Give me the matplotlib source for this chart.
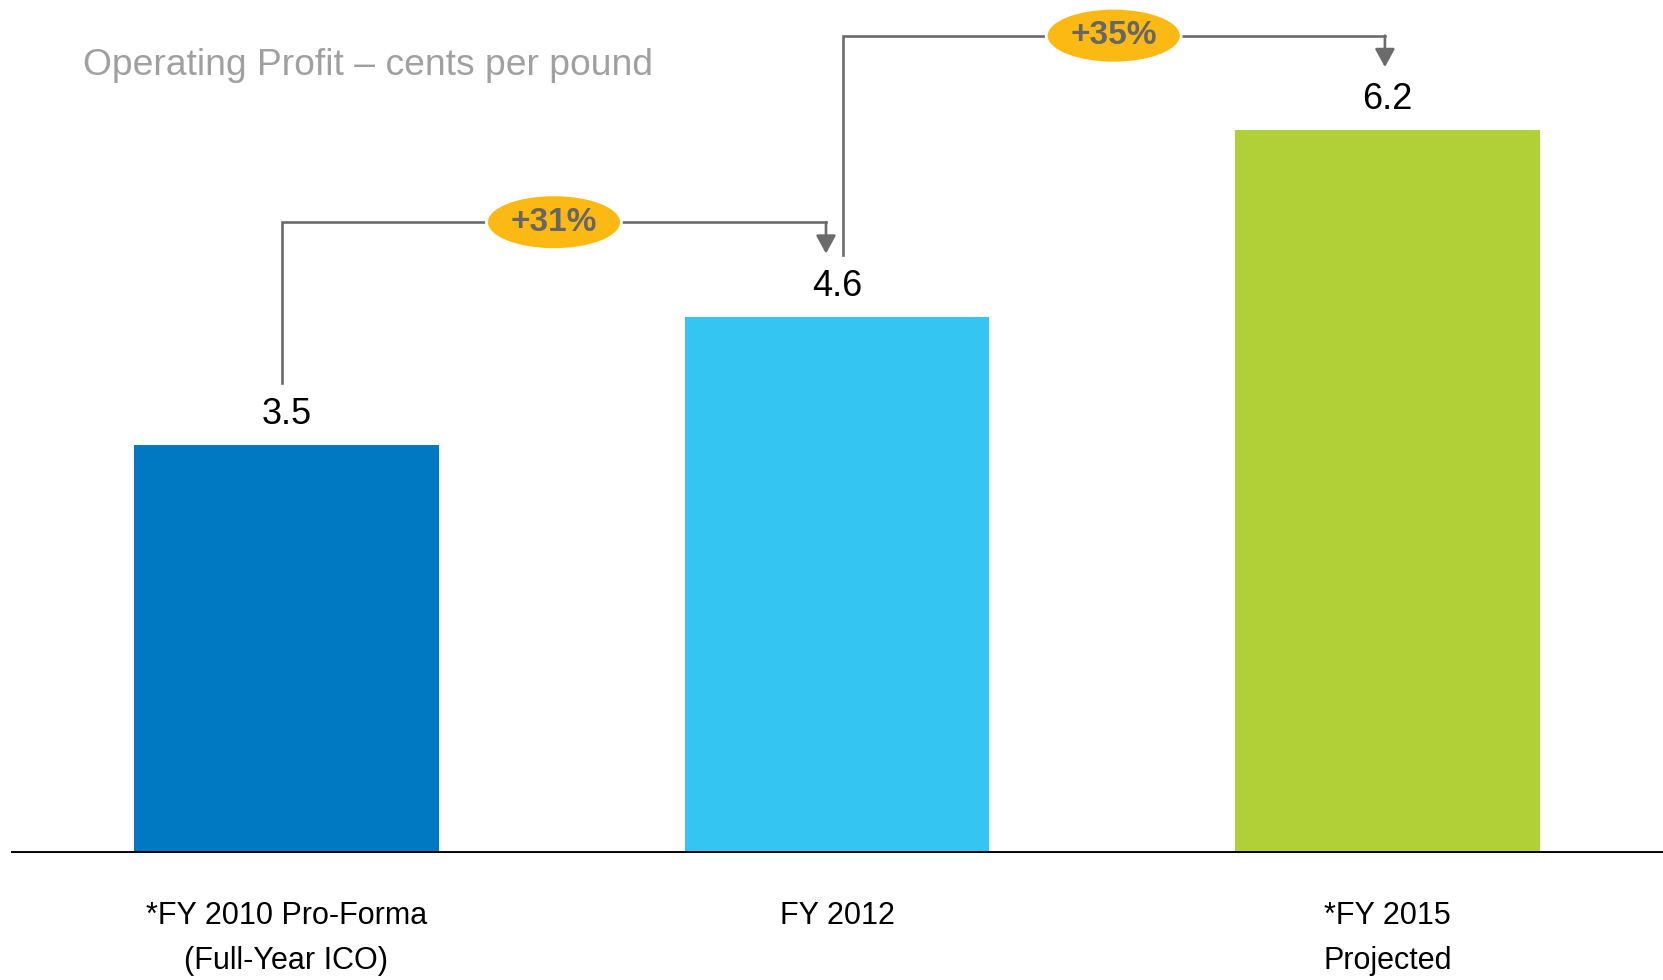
import numpy as np
import matplotlib.pyplot as plt
from matplotlib.patches import Ellipse

# data
categories = ['*FY 2010 Pro-Forma\n(Full-Year ICO)', 'FY 2012', '*FY 2015\nProjected']
values = [3.5, 4.6, 6.2]
colors = ['#0079C2', '#34C5F2', '#B1CF37']
growth = [(0, 1, '+31%'), (1, 2, '+35%')]

fig = plt.figure(figsize=(16.63, 9.8), dpi=100)
ax = fig.add_axes([11/1663, 127/980, 1652/1663, 853/980])

x = np.arange(len(values))
ax.bar(x, values, width=0.553, color=colors, zorder=2)
ax.axhline(0, color='black', lw=2.8, zorder=3)

for xi, v in zip(x, values):
    ax.annotate(f'{v:.1f}', (xi, v), xytext=(0, 21.8), textcoords='offset points',
                ha='center', va='center', fontsize=26, family='Liberation Sans')

#%% growth brackets
line_col = '#6B6B6B'
dx_left = [-0.008, 0.01]
dx_right = [-0.02, -0.005]
for k, (i, j, lab) in enumerate(growth):
    xl = i + dx_left[k]
    xr = j + dx_right[k]
    y0 = values[i] + 0.53
    ytop = values[j] + 0.81
    ytip = values[j] + 0.54
    ax.plot([xl, xl, xr], [y0, ytop, ytop], color=line_col, lw=1.9, zorder=4,
            solid_joinstyle='miter')
    ax.annotate('', xy=(xr, ytip), xytext=(xr, ytop),
                arrowprops=dict(arrowstyle='-|>,head_length=0.55,head_width=0.3',
                                color=line_col, lw=1.9, mutation_scale=20,
                                shrinkA=0, shrinkB=0), zorder=4)
    xm = (xl + xr) / 2
    ax.add_patch(Ellipse((xm, ytop), 0.245, 0.47, facecolor='#FDB913',
                         edgecolor='white', lw=2, zorder=5))
    ax.text(xm, ytop, lab, ha='center', va='center', fontsize=24, fontweight='bold',
            color='#666666', family='Liberation Sans', zorder=6)

ax.set_xlim(-0.5, 2.5)
ax.set_ylim(0, 853/116.6)
ax.set_xticks(x)
ax.set_xticklabels(categories, fontsize=22, family='Liberation Sans', linespacing=1.66)
ax.tick_params(axis='x', length=0, pad=34.5)
ax.set_yticks([])
for s in ax.spines.values():
    s.set_visible(False)

fig.text(83/1663, 1 - 65.5/980, 'Operating Profit \u2013 cents per pound', fontsize=26.8,
         color='#A0A0A0', va='center', ha='left', family='Liberation Sans')

plt.savefig('out.png', dpi=100)
